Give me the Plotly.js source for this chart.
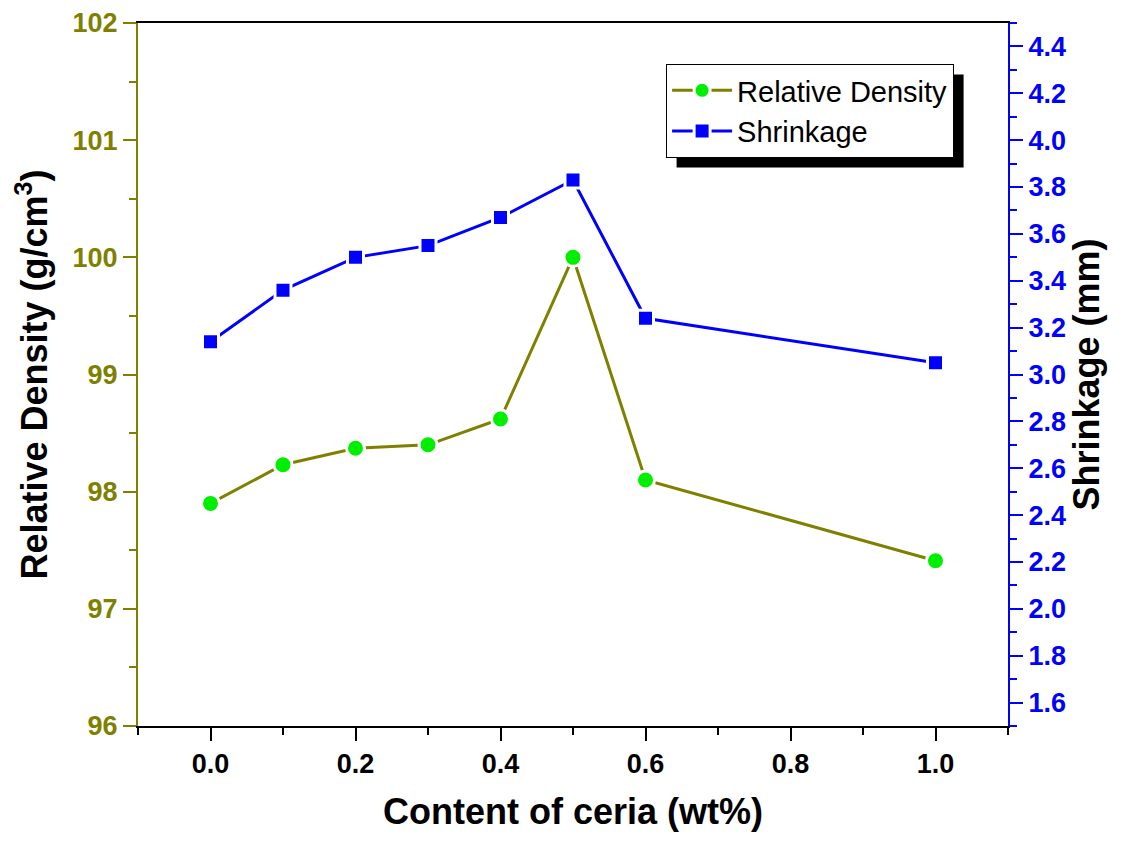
<!DOCTYPE html>
<html>
<head>
<meta charset="utf-8">
<script src="https://cdn.plot.ly/plotly-3.0.1.min.js"></script>
<style>html,body{margin:0;padding:0;background:#fff;}#chart{width:1130px;height:841px;}</style>
</head>
<body>
<div id="chart"></div>
<script>
// Data
const ceriaContent = [0.0, 0.1, 0.2, 0.3, 0.4, 0.5, 0.6, 1.0];
const relativeDensity = [97.90, 98.23, 98.37, 98.40, 98.62, 100.0, 98.10, 97.41];
const shrinkage = [3.14, 3.36, 3.50, 3.55, 3.67, 3.83, 3.24, 3.05];
const seriesNames = ["Relative Density", "Shrinkage"];
const axisTitles = {x: "Content of ceria (wt%)", y: "Relative Density (g/cm<sup>3</sup>)", y2: "Shrinkage (mm)"};

const OLIVE = "#808000", BLUE = "#0000FF", GREEN = "#00EE00";
const FONT = "Liberation Sans, Arial, sans-serif";

const traces = [
  {
    x: ceriaContent, y: relativeDensity, name: seriesNames[0],
    type: "scatter", mode: "lines+markers", yaxis: "y",
    line: {color: OLIVE, width: 3},
    marker: {symbol: "circle", size: 18, color: GREEN, line: {color: "#ffffff", width: 3}}
  },
  {
    x: ceriaContent, y: shrinkage, name: seriesNames[1],
    type: "scatter", mode: "lines+markers", yaxis: "y2",
    line: {color: BLUE, width: 3},
    marker: {symbol: "square", size: 16, color: BLUE, line: {color: "#ffffff", width: 3}}
  }
];

const layout = {
  width: 1130, height: 841,
  margin: {l: 138, r: 122, t: 23, b: 115},
  paper_bgcolor: "#ffffff", plot_bgcolor: "#ffffff",
  font: {family: FONT, color: "#000"},
  showlegend: true,
  legend: {
    x: 0.607, y: 0.9417, xanchor: "left", yanchor: "top",
    bgcolor: "#ffffff", bordercolor: "#000000", borderwidth: 1,
    font: {family: FONT, size: 29, color: "#000"},
    tracegroupgap: 0, itemwidth: 60
  },
  xaxis: {
    range: [-0.1, 1.1], dtick: 0.2, tick0: 0, tickformat: ".1f",
    showgrid: false, zeroline: false,
    showline: true, linecolor: "#000", linewidth: 2, mirror: true,
    ticks: "outside", ticklen: 13, tickwidth: 2, tickcolor: "#000",
    minor: {dtick: 0.1, tick0: 0, ticks: "outside", ticklen: 7, tickwidth: 2, tickcolor: "#000"},
    tickfont: {family: FONT, size: 27, color: "#000", weight: "bold"},
    title: {text: axisTitles.x, font: {family: FONT, size: 36, color: "#000", weight: "bold"}, standoff: 20}
  },
  yaxis: {
    range: [96, 102], dtick: 1, tick0: 96,
    showgrid: false, zeroline: false,
    showline: true, linecolor: OLIVE, linewidth: 2,
    ticks: "outside", ticklen: 13, tickwidth: 2, tickcolor: OLIVE,
    minor: {dtick: 0.5, tick0: 96, ticks: "outside", ticklen: 7, tickwidth: 2, tickcolor: OLIVE},
    tickfont: {family: FONT, size: 27, color: OLIVE, weight: "bold"},
    title: {text: axisTitles.y, font: {family: FONT, size: 36, color: "#000", weight: "bold"}, standoff: 14}
  },
  yaxis2: {
    overlaying: "y", side: "right",
    range: [1.5, 4.5], dtick: 0.2, tick0: 1.6, tickformat: ".1f",
    showgrid: false, zeroline: false,
    showline: true, linecolor: BLUE, linewidth: 2,
    ticks: "outside", ticklen: 13, tickwidth: 2, tickcolor: BLUE,
    minor: {dtick: 0.1, tick0: 1.5, ticks: "outside", ticklen: 7, tickwidth: 2, tickcolor: BLUE},
    tickfont: {family: FONT, size: 27, color: BLUE, weight: "bold"},
    title: {text: axisTitles.y2, font: {family: FONT, size: 36, color: "#000", weight: "bold"}, standoff: 8}
  },
  shapes: []
};

const gd = document.getElementById("chart");
Plotly.newPlot(gd, traces, layout, {displayModeBar: false, staticPlot: true}).then(function () {
  // Drop shadow behind the legend box, offset 10px right and down (matches the reference style)
  const bg = gd.querySelector(".legend .bg");
  if (!bg) return;
  const box = bg.getBoundingClientRect();
  const host = gd.getBoundingClientRect();
  const sz = gd._fullLayout._size;
  const toX = px => (px - host.left - sz.l) / sz.w;
  const toY = py => 1 - (py - host.top - sz.t) / sz.h;
  const off = 10;
  return Plotly.relayout(gd, {shapes: [{
    type: "rect", xref: "paper", yref: "paper", layer: "above",
    x0: toX(box.left + off), x1: toX(box.right + off),
    y0: toY(box.bottom + off), y1: toY(box.top + off),
    fillcolor: "#000", line: {width: 0}
  }]});
});
</script>
</body>
</html>
